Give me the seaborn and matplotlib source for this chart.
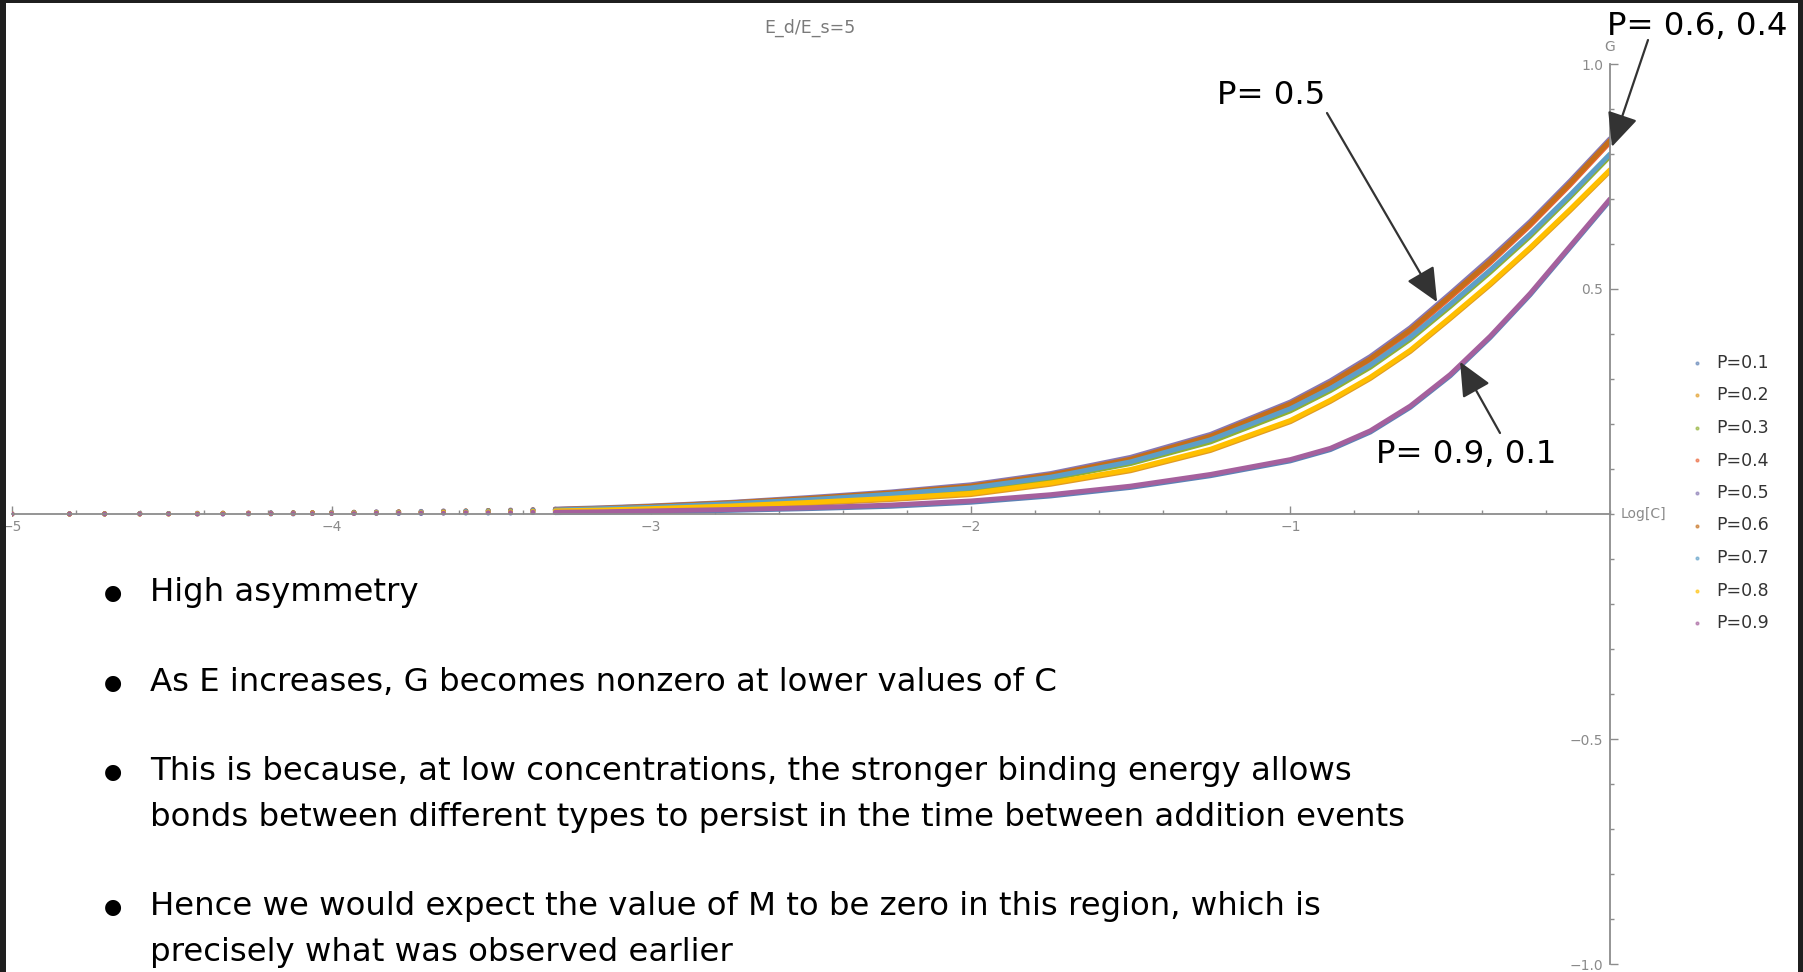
import matplotlib
matplotlib.use("Agg")
import matplotlib.pyplot as plt
import pandas as pd
import seaborn as sns
from matplotlib.lines import Line2D
from matplotlib.patches import Rectangle
from matplotlib.ticker import MultipleLocator

# ---------------------------------------------------------------- data
log_c = [-5.0, -4.82, -4.71, -4.6, -4.51, -4.42, -4.34, -4.26, -4.19, -4.12,
         -4.06, -4.0, -3.93, -3.86, -3.79, -3.72, -3.65, -3.58, -3.51, -3.44,
         -3.37,
         -3.3, -3.15, -3.0, -2.75, -2.5, -2.25, -2.0, -1.75, -1.5, -1.25,
         -1.0, -0.875, -0.75, -0.625, -0.5, -0.375, -0.25, -0.125, 0.0]

g_p01 = [0.000, 0.000, 0.000, 0.000, 0.000, 0.000, 0.000, 0.000, 0.000, 0.000,
         0.001, 0.001, 0.001, 0.001, 0.001, 0.001, 0.002, 0.002, 0.002, 0.002,
         0.003,
         0.003, 0.004, 0.005, 0.008, 0.012, 0.017, 0.026, 0.040, 0.059, 0.085,
         0.118, 0.143, 0.182, 0.237, 0.307, 0.392, 0.487, 0.592, 0.697]
g_p02 = [0.000, 0.000, 0.000, 0.000, 0.000, 0.000, 0.001, 0.001, 0.001, 0.001,
         0.001, 0.002, 0.002, 0.002, 0.003, 0.003, 0.003, 0.004, 0.004, 0.005,
         0.005,
         0.006, 0.008, 0.010, 0.016, 0.023, 0.032, 0.043, 0.066, 0.096, 0.141,
         0.205, 0.250, 0.301, 0.361, 0.434, 0.509, 0.589, 0.674, 0.762]
g_p03 = [0.000, 0.000, 0.000, 0.000, 0.001, 0.001, 0.001, 0.001, 0.002, 0.002,
         0.002, 0.002, 0.003, 0.003, 0.004, 0.004, 0.005, 0.005, 0.006, 0.007,
         0.008,
         0.008, 0.011, 0.014, 0.021, 0.030, 0.041, 0.055, 0.078, 0.112, 0.160,
         0.229, 0.274, 0.326, 0.388, 0.461, 0.537, 0.617, 0.704, 0.795]
g_p04 = [0.000, 0.000, 0.000, 0.001, 0.001, 0.001, 0.001, 0.002, 0.002, 0.002,
         0.003, 0.003, 0.003, 0.004, 0.004, 0.005, 0.006, 0.006, 0.007, 0.008,
         0.009,
         0.010, 0.012, 0.016, 0.024, 0.034, 0.046, 0.060, 0.085, 0.120, 0.170,
         0.242, 0.288, 0.342, 0.405, 0.481, 0.558, 0.641, 0.731, 0.826]
g_p05 = [0.000, 0.001, 0.001, 0.001, 0.001, 0.002, 0.002, 0.002, 0.003, 0.003,
         0.003, 0.004, 0.004, 0.005, 0.005, 0.006, 0.007, 0.007, 0.008, 0.009,
         0.010,
         0.011, 0.014, 0.018, 0.026, 0.037, 0.049, 0.065, 0.090, 0.126, 0.177,
         0.249, 0.296, 0.350, 0.414, 0.490, 0.568, 0.650, 0.740, 0.834]
g_p06 = [0.000, 0.000, 0.001, 0.001, 0.001, 0.001, 0.002, 0.002, 0.002, 0.003,
         0.003, 0.003, 0.004, 0.004, 0.005, 0.005, 0.006, 0.007, 0.008, 0.008,
         0.009,
         0.010, 0.013, 0.017, 0.025, 0.035, 0.047, 0.062, 0.087, 0.122, 0.173,
         0.245, 0.291, 0.345, 0.409, 0.485, 0.562, 0.645, 0.735, 0.830]
g_p07 = [0.000, 0.000, 0.000, 0.001, 0.001, 0.001, 0.001, 0.001, 0.002, 0.002,
         0.002, 0.003, 0.003, 0.004, 0.004, 0.005, 0.005, 0.006, 0.007, 0.007,
         0.008,
         0.009, 0.012, 0.015, 0.023, 0.032, 0.044, 0.058, 0.082, 0.116, 0.165,
         0.234, 0.279, 0.331, 0.393, 0.466, 0.542, 0.622, 0.709, 0.800]
g_p08 = [0.000, 0.000, 0.000, 0.000, 0.000, 0.001, 0.001, 0.001, 0.001, 0.001,
         0.002, 0.002, 0.002, 0.003, 0.003, 0.003, 0.004, 0.004, 0.005, 0.005,
         0.006,
         0.007, 0.009, 0.012, 0.018, 0.026, 0.035, 0.046, 0.069, 0.099, 0.144,
         0.208, 0.253, 0.304, 0.364, 0.437, 0.512, 0.592, 0.677, 0.765]
g_p09 = [0.000, 0.000, 0.000, 0.000, 0.000, 0.000, 0.000, 0.001, 0.001, 0.001,
         0.001, 0.001, 0.001, 0.002, 0.002, 0.002, 0.002, 0.003, 0.003, 0.003,
         0.004,
         0.004, 0.005, 0.007, 0.010, 0.014, 0.020, 0.029, 0.043, 0.062, 0.088,
         0.121, 0.146, 0.185, 0.240, 0.310, 0.395, 0.490, 0.595, 0.700]

p_labels = ["P=0.1", "P=0.2", "P=0.3", "P=0.4", "P=0.5",
            "P=0.6", "P=0.7", "P=0.8", "P=0.9"]
series = [g_p01, g_p02, g_p03, g_p04, g_p05, g_p06, g_p07, g_p08, g_p09]

x_ticks = [-5, -4, -3, -2, -1]
x_tick_labels = ["\u22125", "\u22124", "\u22123", "\u22122", "\u22121"]
y_ticks = [-1.0, -0.5, 0.5, 1.0]
y_tick_labels = ["\u22121.0", "\u22120.5", "0.5", "1.0"]

plot_title = "E_d/E_s=5"
bullets = [
    ("High asymmetry", True),
    ("As E increases, G becomes nonzero at lower values of C", True),
    ("This is because, at low concentrations, the stronger binding energy allows", True),
    ("bonds between different types to persist in the time between addition events", False),
    ("Hence we would expect the value of M to be zero in this region, which is", True),
    ("precisely what was observed earlier", False),
]

# ---------------------------------------------------------------- style
colors = ["#5E81B5", "#E19C24", "#8FB032", "#EB6235", "#8778B3",
          "#C56E1A", "#5D9EC7", "#FFBF00", "#A5609D"]
palette = dict(zip(p_labels, colors))

sns.set_style("white")
plt.rcParams["font.family"] = ["DejaVu Sans"]

W, H = 1803, 972
fig = plt.figure(figsize=(W / 100, H / 100), dpi=100, facecolor="white")


def fx(x):
    return x / W


def fy(y):
    return 1 - y / H


ax = fig.add_axes([fx(12), 8 / H, 1598 / W, 900 / H])
ax.set_facecolor("white")

df = pd.DataFrame(
    [(lab, x, g) for lab, vals in zip(p_labels, series) for x, g in zip(log_c, vals)],
    columns=["P", "logC", "G"],
)

# dense part of each series as a thick trace, sparse low-C samples as dots
sns.lineplot(data=df[df["logC"] >= -3.3], x="logC", y="G", hue="P",
             hue_order=p_labels, palette=palette, linewidth=3.5,
             estimator=None, legend=False, ax=ax)
sns.scatterplot(data=df[df["logC"] < -3.2], x="logC", y="G", hue="P",
                hue_order=p_labels, palette=palette, s=12, linewidth=0,
                legend=False, ax=ax)

ax.set_xlim(-5, 0)
ax.set_ylim(-1, 1)
ax.set_xlabel("")
ax.set_ylabel("")

axis_gray = "#8c8c8c"
for side in ("top", "right"):
    ax.spines[side].set_visible(False)
for side in ("left", "bottom"):
    ax.spines[side].set_position(("data", 0))
    ax.spines[side].set_color(axis_gray)
    ax.spines[side].set_linewidth(1.3)

ax.set_xticks(x_ticks)
ax.set_xticklabels(x_tick_labels)
ax.set_yticks(y_ticks)
ax.set_yticklabels(y_tick_labels)
ax.xaxis.set_minor_locator(MultipleLocator(0.2))
ax.yaxis.set_minor_locator(MultipleLocator(0.1))
ax.tick_params(which="both", bottom=True, left=True, direction="in",
               color=axis_gray, width=1, labelcolor="#8a8a8a", labelsize=10)
ax.tick_params(which="major", length=5.5)
ax.tick_params(which="minor", length=3)
ax.tick_params(axis="x", pad=4)
ax.tick_params(axis="y", pad=5)

ax.annotate("G", xy=(0, 1), xytext=(0, 17), textcoords="offset pixels",
            ha="center", va="center", fontsize=10, color="#8a8a8a")
ax.annotate("Log[C]", xy=(0, 0), xytext=(11, 0), textcoords="offset pixels",
            ha="left", va="center", fontsize=10, color="#8a8a8a")

fig.text(fx(810), fy(28), plot_title, ha="center", va="center",
         fontsize=12.5, color="#7a7a7a")

# legend entries
for i, (lab, col) in enumerate(zip(p_labels, colors)):
    yy = 363 + i * 32.5
    fig.text(fx(1716), fy(yy), lab, ha="left", va="center",
             fontsize=12.5, color="#333333")
    fig.add_artist(Line2D([fx(1697)], [fy(yy)], marker="o", markersize=2,
                          color=col, alpha=0.6, transform=fig.transFigure))

# call-out arrows pointing at the curves
arrow_kw = dict(arrowstyle="-|>,head_length=1.05,head_width=0.48",
                color="#333333", lw=1.6, mutation_scale=20,
                shrinkA=0, shrinkB=0)
callouts = [
    ("P= 0.5", (1217, 104), (-0.541, 0.471), (1327, 113)),
    ("P= 0.6, 0.4", (1607, 35), (0.006, 0.816), (1648, 40)),
    ("P= 0.9, 0.1", (1376, 463), (-0.469, 0.338), (1500, 433)),
]
for text, (tx, ty), tip, (bx, by) in callouts:
    fig.text(fx(tx), fy(ty), text, ha="left", va="baseline",
             fontsize=23.3, color="black")
    ax.annotate("", xy=tip, xycoords="data",
                xytext=(bx, H - by), textcoords="figure pixels",
                arrowprops=arrow_kw, annotation_clip=False)

# slide bullet text
baselines = [601, 691, 780, 826, 915, 961]
for (line, has_bullet), base in zip(bullets, baselines):
    fig.text(fx(150), fy(base), line, ha="left", va="baseline",
             fontsize=23.3, color="black")
    if has_bullet:
        fig.text(fx(113), fy(base - 8), "\u25CF", ha="center", va="center",
                 fontsize=15, color="black")

# dark window frame around the slide
frame = "#1f1f1f"
for (x0, y0, w, h) in [(0, 0, 6, H), (0, 0, W, 3), (1798, 0, 5, H)]:
    fig.add_artist(Rectangle((fx(x0), fy(y0 + h)), w / W, h / H,
                             transform=fig.transFigure, color=frame, lw=0,
                             zorder=10))

fig.savefig("out.png", dpi=100, facecolor="white")
